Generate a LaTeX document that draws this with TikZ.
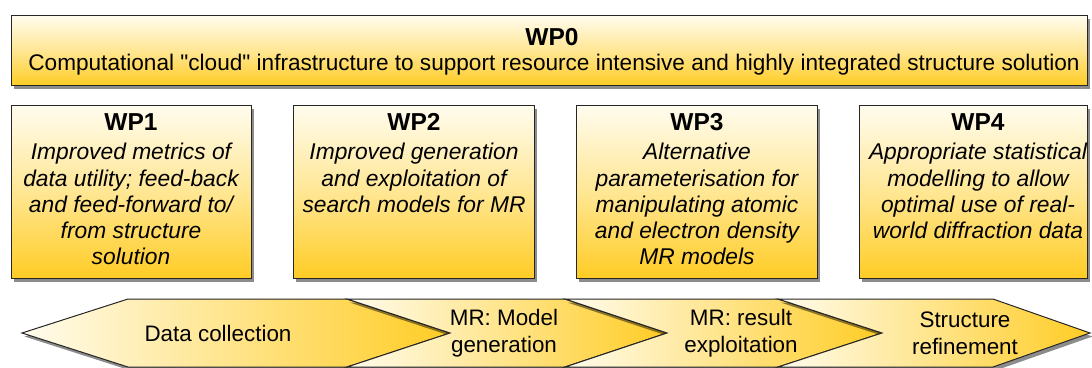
\documentclass[tikz,border=0pt]{standalone}
\usepackage{fontspec}
\setmainfont{Liberation Sans}
\usetikzlibrary{shadows}
\definecolor{gold}{RGB}{255,204,36}
\definecolor{cream}{RGB}{255,252,238}
\newcommand{\sq}{{\XeTeXglyph\XeTeXcharglyph"0022\relax}}
\tikzset{
  wpbox/.style={draw=black!85, line width=1.1pt, top color=cream, bottom color=gold,
    middle color=gold!45!cream, rectangle, inner sep=0pt, anchor=north west,
    drop shadow={shadow xshift=2.5pt, shadow yshift=-3.5pt, opacity=0.45, fill=black}},
  chev/.style={draw=black!85, line width=1pt, left color=cream, right color=gold,
    drop shadow={shadow xshift=2.5pt, shadow yshift=-3.5pt, opacity=0.45, fill=black}},
  wptitle/.style={inner sep=0pt, font=\bfseries\fontsize{24.5}{28}\selectfont},
  wptext/.style={anchor=north, align=center, inner sep=0pt,
    font=\itshape\fontsize{22.8}{26.3}\selectfont},
  wp0text/.style={inner sep=0pt, font=\fontsize{22.6}{26}\selectfont},
  chtext/.style={align=center, inner sep=0pt, font=\fontsize{22.4}{27}\selectfont}
}
\begin{document}
\begin{tikzpicture}[x=1pt,y=-1pt]
\useasboundingbox (0,0) rectangle (1092,367);
% WP0
\node[wpbox, minimum width=1076pt, minimum height=70pt] (wp0) at (11,15) {};
\node[wptitle] (wp0t) at (552,37) {WP0};
\node[wp0text] (wp0d) at (554,65) {Computational \sq cloud\sq\ infrastructure to support resource intensive and highly integrated structure solution};
% WP1..WP4
\node[wpbox, minimum width=240pt, minimum height=173pt] (wp1) at (11,105) {};
\node[wpbox, minimum width=241pt, minimum height=173pt] (wp2) at (293,105) {};
\node[wpbox, minimum width=241pt, minimum height=173pt] (wp3) at (576,105) {};
\node[wpbox, minimum width=228pt, minimum height=173pt] (wp4) at (859,105) {};
\node[wptitle] (wp1t) at (131,122) {WP1};
\node[wptitle] (wp2t) at (414,122) {WP2};
\node[wptitle] (wp3t) at (697,122) {WP3};
\node[wptitle] (wp4t) at (978,122) {WP4};
\node[wptext] (wp1d) at (131,143) {Improved metrics of\\data utility; feed-back\\and feed-forward to/\\from structure\\solution};
\node[wptext] (wp2d) at (414,143) {Improved generation\\and exploitation of\\search models for MR};
\node[wptext] (wp3d) at (697,143) {Alternative\\parameterisation for\\manipulating atomic\\and electron density\\MR models};
\node[wptext] (wp4d) at (978,143) {Appropriate statistical\\modelling to allow\\optimal use of real-\\world diffraction data};
% process chevrons
\path[chev] (22,333) -- (128,299) -- (347,299) -- (450,333) -- (347,367) -- (128,367) -- cycle;
\path[chev] (347,299) -- (565,299) -- (667,333) -- (565,367) -- (347,367) -- (450,333) -- cycle;
\path[chev] (565,299) -- (778,299) -- (882,333) -- (778,367) -- (565,367) -- (667,333) -- cycle;
\path[chev] (778,299) -- (993,299) -- (1090,333) -- (993,367) -- (778,367) -- (882,333) -- cycle;
\node[chtext] (c1) at (218,333) {Data collection};
\node[chtext] (c2) at (504,333) {MR: Model\\generation};
\node[chtext] (c3) at (741,333) {MR: result\\exploitation};
\node[chtext] (c4) at (965,333) {Structure\\refinement};
\end{tikzpicture}
\end{document}
